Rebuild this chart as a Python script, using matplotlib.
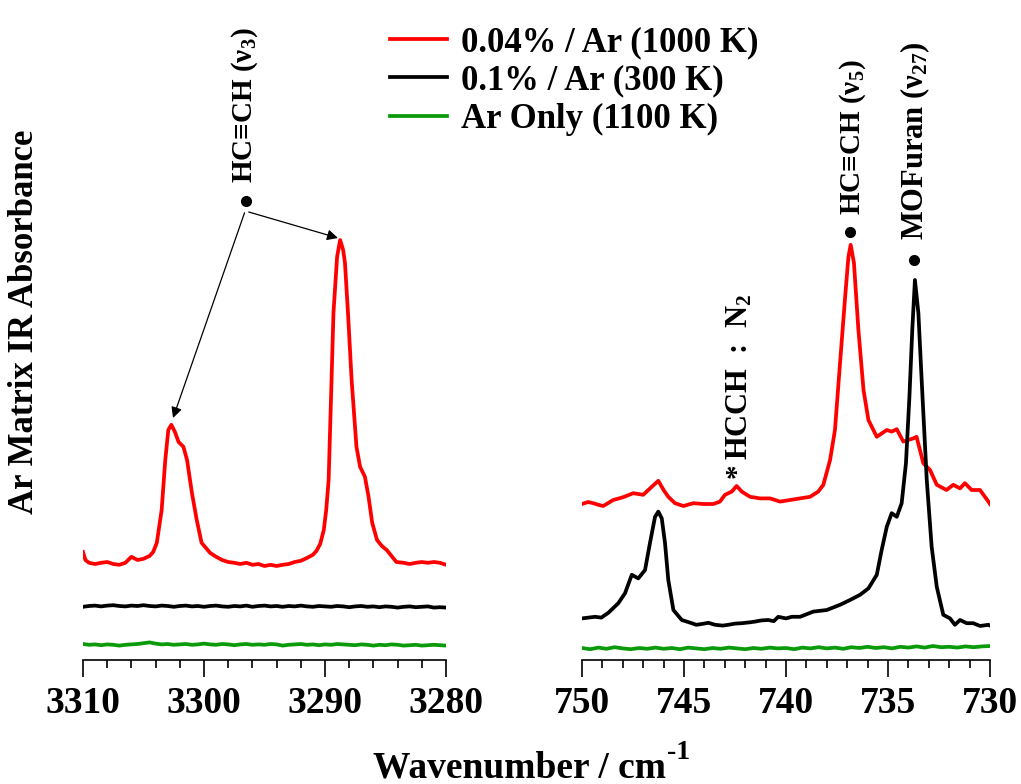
import matplotlib
matplotlib.use("Agg")
import matplotlib.pyplot as plt
from matplotlib.ticker import MultipleLocator

plt.rcParams['font.family'] = ['Liberation Serif', 'DejaVu Serif']
plt.rcParams['font.weight'] = 'bold'
plt.rcParams['mathtext.default'] = 'regular'

RED = '#ff0000'
BLACK = '#000000'
GREEN = '#0a9a0a'

# ---- C-H stretch region (3310-3280 cm-1) ----
wn_ch_red = [3310.0, 3309.8, 3309.5, 3309.0, 3308.5, 3308.0, 3307.5, 3307.0, 3306.5, 3306.0,
             3305.5, 3305.0, 3304.5, 3304.2, 3303.9, 3303.5, 3303.2, 3302.95, 3302.7, 3302.4,
             3302.1, 3301.7, 3301.4, 3301.0, 3300.6, 3300.2, 3299.5, 3299.0, 3298.5, 3298.0,
             3297.5, 3297.0, 3296.5, 3296.0, 3295.5, 3295.0, 3294.5, 3294.0, 3293.5, 3293.0,
             3292.5, 3292.0, 3291.5, 3291.0, 3290.7, 3290.4, 3290.1, 3289.9, 3289.7, 3289.5,
             3289.3, 3289.0, 3288.75, 3288.5, 3288.35, 3288.1, 3287.8, 3287.4, 3287.1, 3286.7,
             3286.4, 3286.1, 3285.7, 3285.3, 3284.9, 3284.5, 3284.1, 3283.5, 3283.0, 3282.5,
             3282.0, 3281.5, 3281.0, 3280.5, 3280.0]
abs_ch_red = [0.270, 0.250, 0.243, 0.240, 0.243, 0.245, 0.240, 0.238, 0.243, 0.258,
              0.250, 0.253, 0.260, 0.270, 0.293, 0.375, 0.500, 0.575, 0.588, 0.570,
              0.545, 0.533, 0.500, 0.418, 0.350, 0.293, 0.268, 0.258, 0.250, 0.245,
              0.243, 0.240, 0.243, 0.238, 0.240, 0.235, 0.238, 0.235, 0.238, 0.240,
              0.245, 0.248, 0.255, 0.263, 0.273, 0.290, 0.325, 0.375, 0.450, 0.658,
              0.868, 1.008, 1.050, 1.025, 0.993, 0.868, 0.700, 0.533, 0.483, 0.458,
              0.408, 0.343, 0.300, 0.285, 0.275, 0.260, 0.245, 0.243, 0.240, 0.243,
              0.245, 0.243, 0.245, 0.243, 0.238]

wn_ch_flat = [3310.0 - 0.5 * i for i in range(61)]
abs_ch_black = [0.133, 0.135, 0.136, 0.134, 0.136, 0.137, 0.135, 0.134, 0.136, 0.135,
                0.137, 0.135, 0.134, 0.136, 0.135, 0.133, 0.135, 0.136, 0.134, 0.135,
                0.133, 0.135, 0.136, 0.134, 0.133, 0.135, 0.134, 0.136, 0.133, 0.135,
                0.136, 0.134, 0.135, 0.133, 0.135, 0.134, 0.136, 0.134, 0.133, 0.135,
                0.134, 0.133, 0.135, 0.134, 0.132, 0.134, 0.135, 0.133, 0.134, 0.132,
                0.134, 0.133, 0.131, 0.133, 0.134, 0.132, 0.133, 0.134, 0.131, 0.132,
                0.131]
abs_ch_green = [0.040, 0.038, 0.039, 0.037, 0.039, 0.038, 0.036, 0.038, 0.039, 0.040,
                0.042, 0.044, 0.041, 0.039, 0.040, 0.038, 0.039, 0.040, 0.038, 0.039,
                0.041, 0.039, 0.038, 0.040, 0.039, 0.037, 0.039, 0.040, 0.038, 0.039,
                0.038, 0.040, 0.039, 0.036, 0.038, 0.039, 0.040, 0.038, 0.039, 0.037,
                0.039, 0.038, 0.040, 0.039, 0.038, 0.037, 0.039, 0.038, 0.036, 0.038,
                0.037, 0.039, 0.038, 0.036, 0.037, 0.038, 0.036, 0.037, 0.038, 0.037,
                0.036]

# ---- bending region (750-730 cm-1) ----
wn_bd_red = [750.0, 749.7, 749.45, 749.2, 748.96, 748.47, 747.98, 747.49, 747.0, 746.58,
             746.26, 746.0, 745.77, 745.44, 745.03, 744.54, 744.05, 743.56, 743.24, 742.99,
             742.66, 742.42, 742.17, 741.76, 741.27, 740.78, 740.29, 739.8, 739.31, 738.82,
             738.42, 738.17, 737.84, 737.6, 737.35, 737.1, 736.94, 736.83, 736.67, 736.45,
             736.2, 735.96, 735.55, 735.06, 734.82, 734.57, 734.25, 733.76, 733.6, 733.27,
             732.94, 732.61, 732.13, 731.8, 731.47, 731.23, 730.9, 730.49, 730.08, 730.0]
abs_bd_red = [0.390, 0.395, 0.392, 0.388, 0.385, 0.400, 0.407, 0.417, 0.413, 0.433,
              0.448, 0.425, 0.408, 0.392, 0.385, 0.392, 0.390, 0.390, 0.396, 0.413,
              0.421, 0.435, 0.421, 0.408, 0.404, 0.404, 0.396, 0.400, 0.404, 0.408,
              0.421, 0.438, 0.500, 0.575, 0.743, 0.908, 1.008, 1.038, 0.993, 0.825,
              0.675, 0.600, 0.558, 0.575, 0.571, 0.577, 0.546, 0.554, 0.558, 0.492,
              0.475, 0.438, 0.425, 0.438, 0.429, 0.442, 0.425, 0.425, 0.396, 0.390]

wn_bd_black = [750.0, 749.36, 749.05, 748.71, 748.22, 747.89, 747.56, 747.24, 746.91, 746.67,
               746.42, 746.26, 746.09, 745.93, 745.77, 745.52, 745.11, 744.62, 744.4, 744.13,
               743.8, 743.48, 743.1, 742.83, 742.5, 742.17, 741.8, 741.52, 741.2, 740.87,
               740.6, 740.38, 740.0, 739.72, 739.31, 738.66, 738.0, 737.35, 736.86, 736.37,
               735.96, 735.55, 735.31, 735.06, 734.82, 734.57, 734.33, 734.12, 733.95, 733.81,
               733.68, 733.51, 733.35, 733.1, 732.86, 732.61, 732.29, 731.96, 731.72, 731.47,
               731.14, 730.82, 730.49, 730.08, 730.0]
abs_bd_black = [0.104, 0.108, 0.106, 0.118, 0.142, 0.167, 0.213, 0.204, 0.225, 0.292,
                0.358, 0.371, 0.354, 0.292, 0.200, 0.125, 0.100, 0.092, 0.088, 0.090,
                0.093, 0.088, 0.086, 0.088, 0.091, 0.092, 0.094, 0.096, 0.099, 0.100,
                0.097, 0.108, 0.104, 0.108, 0.108, 0.121, 0.125, 0.138, 0.150, 0.163,
                0.179, 0.213, 0.275, 0.333, 0.367, 0.358, 0.392, 0.492, 0.658, 0.825,
                0.950, 0.867, 0.700, 0.450, 0.283, 0.183, 0.113, 0.104, 0.088, 0.100,
                0.092, 0.092, 0.085, 0.088, 0.086]

wn_bd_green = [750.0 - 0.4 * i for i in range(51)]
abs_bd_green = [0.030, 0.027, 0.031, 0.028, 0.032, 0.029, 0.027, 0.030, 0.028, 0.031,
                0.028, 0.030, 0.027, 0.031, 0.029, 0.027, 0.030, 0.028, 0.031, 0.029,
                0.027, 0.030, 0.028, 0.031, 0.029, 0.030, 0.027, 0.031, 0.029, 0.032,
                0.029, 0.031, 0.028, 0.032, 0.030, 0.033, 0.030, 0.032, 0.029, 0.033,
                0.031, 0.034, 0.031, 0.035, 0.032, 0.033, 0.031, 0.034, 0.032, 0.034,
                0.035]

legend_labels = ['0.04% / Ar (1000 K)', '0.1% / Ar (300 K)', 'Ar Only (1100 K)']

W, H = 1021, 784
fig = plt.figure(figsize=(W / 100, H / 100), dpi=100)
axL = fig.add_axes([83 / W, 1 - 660 / H, (446 - 83) / W, 640 / H])
axR = fig.add_axes([582 / W, 1 - 660 / H, (990 - 582) / W, 640 / H])

LW = 2.7
hr, = axL.plot(wn_ch_red, abs_ch_red, color=RED, lw=LW)
hb, = axL.plot(wn_ch_flat, abs_ch_black, color=BLACK, lw=LW)
hg, = axL.plot(wn_ch_flat, abs_ch_green, color=GREEN, lw=LW)
axR.plot(wn_bd_red, abs_bd_red, color=RED, lw=LW)
axR.plot(wn_bd_black, abs_bd_black, color=BLACK, lw=LW)
axR.plot(wn_bd_green, abs_bd_green, color=GREEN, lw=LW)

axL.set_xlim(3310, 3280)
axR.set_xlim(750, 730)
axL.xaxis.set_major_locator(MultipleLocator(10))
axL.xaxis.set_minor_locator(MultipleLocator(2))
axR.xaxis.set_major_locator(MultipleLocator(5))
axR.xaxis.set_minor_locator(MultipleLocator(1))

for ax in (axL, axR):
    ax.set_ylim(0, 1.6)
    ax.set_facecolor('none')
    for s in ('left', 'right', 'top'):
        ax.spines[s].set_visible(False)
    ax.spines['bottom'].set_linewidth(1.2)
    ax.set_yticks([])
    ax.tick_params(axis='x', which='major', direction='out', length=12, width=1.2,
                   labelsize=27, pad=7)
    ax.tick_params(axis='x', which='minor', direction='out', length=6, width=1.2)
    for lab in ax.get_xticklabels():
        lab.set_fontweight('bold')

ANN = 21
# nu3 annotation with arrows to both C-H stretch peaks
axL.plot([3296.53], [1.148], 'o', color='k', ms=7)
axL.text(3296.6, 1.1925, 'HC≡CH (ν$_3$)', rotation=90, ha='center', va='bottom',
         fontsize=ANN, fontweight='bold')
arrow = dict(arrowstyle='-|>', color='k', lw=0.9, shrinkA=0, shrinkB=0, mutation_scale=16)
axL.annotate('', xy=(3302.56, 0.605), xytext=(3296.65, 1.118), arrowprops=arrow)
axL.annotate('', xy=(3288.93, 1.055), xytext=(3296.3, 1.12), arrowprops=arrow)

# bending-region assignments
axR.plot([736.86], [1.07], 'o', color='k', ms=7)
axR.text(736.72, 1.1125, 'HC≡CH (ν$_5$)', rotation=90, ha='center', va='bottom',
         fontsize=ANN, fontweight='bold')
axR.plot([733.73], [1.0], 'o', color='k', ms=7)
axR.text(733.68, 1.05, 'MOFuran (ν$_{27}$)', rotation=90, ha='center', va='bottom',
         fontsize=ANN + 1, fontweight='bold')
axR.text(742.4, 0.455, '*', rotation=90, ha='center', va='bottom',
         fontsize=ANN, fontweight='bold')
axR.text(742.25, 0.5, 'HCCH  :  N$_2$', rotation=90, ha='center', va='bottom',
         fontsize=ANN + 1, fontweight='bold')

fig.legend([hr, hb, hg], legend_labels, loc='upper left',
           bbox_to_anchor=(390 / W, 1 - 26 / H), frameon=False,
           prop={'size': 25, 'weight': 'bold'}, handlelength=1.64,
           handletextpad=0.4, labelspacing=0.16, borderpad=0.0, borderaxespad=0.0)

fig.text(25 / W, 1 - 322 / H, 'Ar Matrix IR Absorbance', rotation=90,
         ha='center', va='center', fontsize=25, fontweight='bold')
xl = fig.text(373 / W, 1 - 778 / H, 'Wavenumber / cm', ha='left', va='baseline',
              fontsize=27, fontweight='bold')
axL.annotate('-1', xy=(1.0, 0.95), xycoords=xl, xytext=(1, 0), textcoords='offset points',
             ha='left', va='center', fontsize=20, fontweight='bold', annotation_clip=False)

fig.savefig('out.png', dpi=100)
